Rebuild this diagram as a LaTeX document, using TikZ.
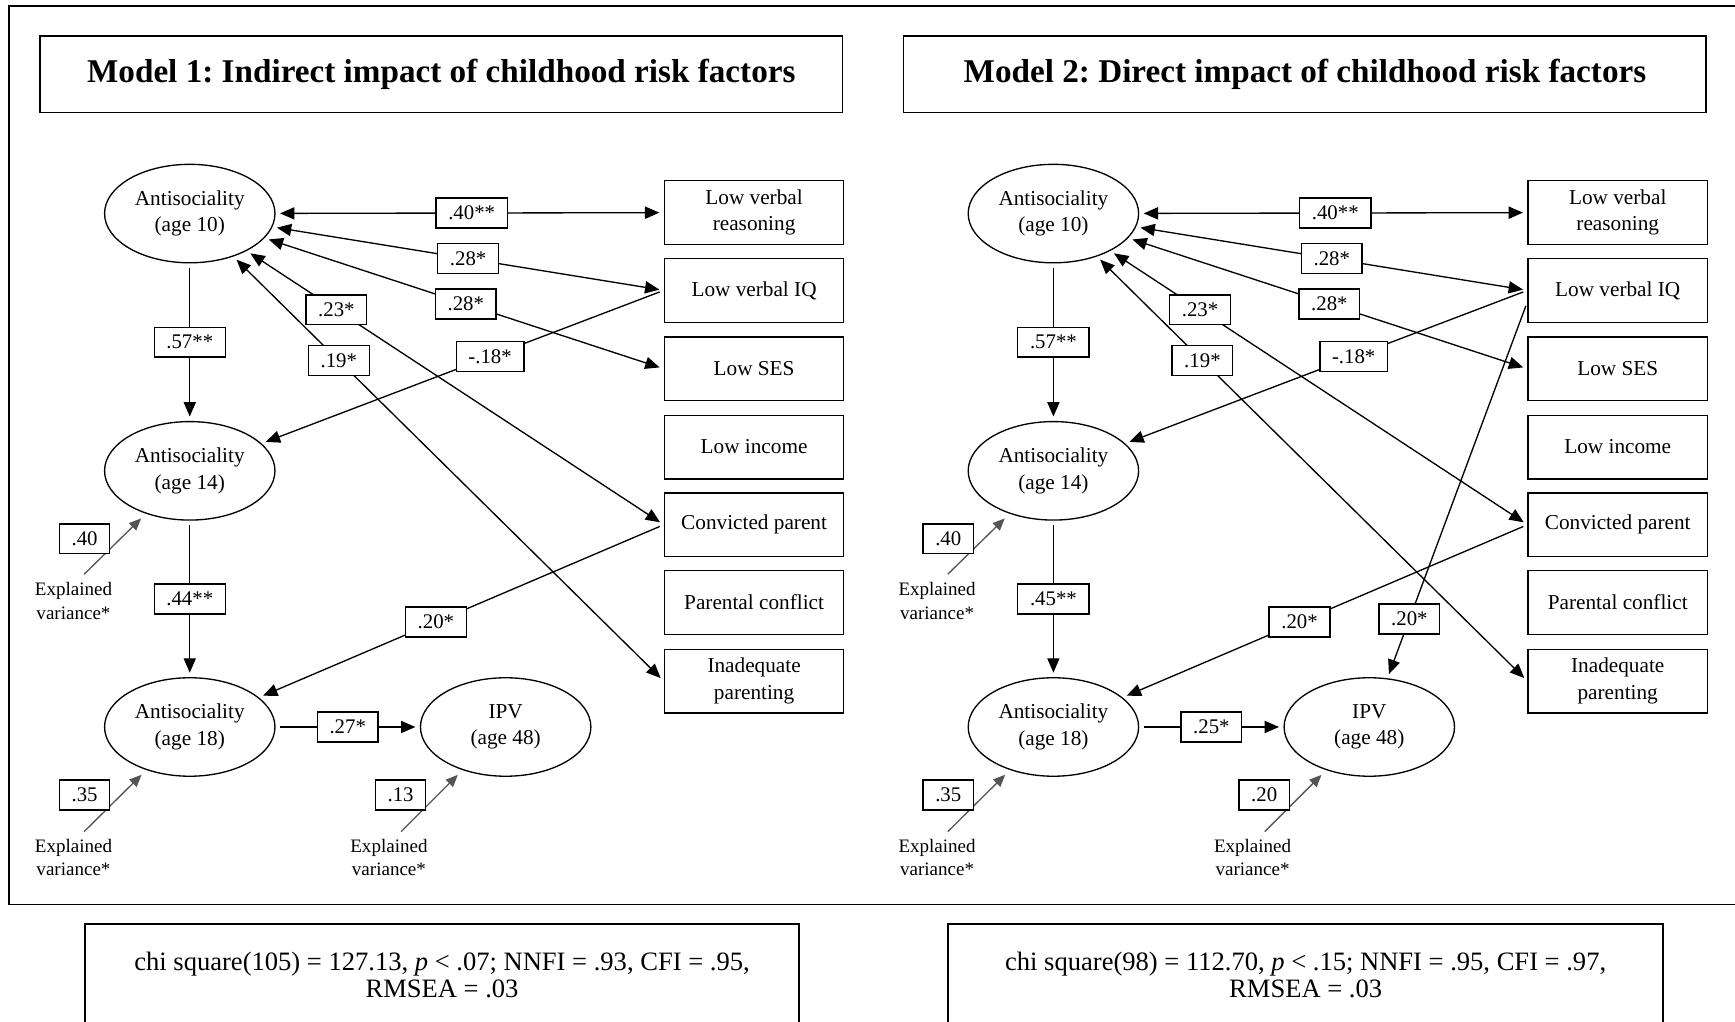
\documentclass[tikz,border=0pt]{standalone}
\usepackage{fontspec}
\setmainfont{Liberation Serif}
\usetikzlibrary{shapes.geometric,arrows.meta,calc}
\frenchspacing
\definecolor{vgray}{RGB}{85,85,85}
\tikzset{
  ell/.style={draw, line width=0.6pt, ellipse, minimum width=77pt, minimum height=44.5pt, inner sep=0pt, align=center, font=\fontsize{9.6}{12}\selectfont},
  rbox/.style={draw, line width=0.6pt, rectangle, minimum width=81pt, minimum height=28.75pt, inner sep=0pt, align=center, font=\fontsize{9.6}{12}\selectfont},
  titlebox/.style={draw, line width=0.7pt, rectangle, minimum width=362.65pt, minimum height=34.65pt, inner sep=0pt, font=\fontsize{15}{18}\selectfont\bfseries},
  lbl/.style={draw, fill=white, line width=0.6pt, inner xsep=5.5pt, inner ysep=0pt, minimum height=13.5pt, font=\fontsize{9.4}{11}\selectfont},
  vtext/.style={align=center, inner sep=0pt, font=\fontsize{8.6}{10.6}\selectfont},
  conn/.style={line width=0.6pt, shorten >=2pt, shorten <=2pt},
  one/.style={conn, -{Triangle[length=6.5pt,width=5.5pt]}},
  two/.style={conn, {Triangle[length=6.5pt,width=5.5pt]}-{Triangle[length=6.5pt,width=5.5pt]}},
  varr/.style={draw=vgray, line width=0.6pt, shorten >=3pt, -{Triangle[length=5.5pt,width=4.6pt]}, vgray},
  frameline/.style={line width=0.8pt},
  fittext/.style={align=center, inner sep=0pt, font=\fontsize{12}{12.2}\selectfont}
}
\newcommand{\modelbody}[4]{%
  \node[titlebox] (title) at (398.85,67.15) {#1};
  \node[ell] (a10) at (171.5,193) {Antisociality\\(age 10)};
  \node[ell] (a14) at (171.5,425.5) {Antisociality\\(age 14)};
  \node[ell] (a18) at (171.5,657) {Antisociality\\(age 18)};
  \node[ell] (ipv) at (457,657) {IPV\\(age 48)};
  \node[rbox] (lvr) at (681.5,192) {Low verbal\\reasoning};
  \node[rbox] (lviq) at (681.5,262.4) {Low verbal IQ};
  \node[rbox] (ses) at (681.5,333.3) {Low SES};
  \node[rbox] (inc) at (681.5,404) {Low income};
  \node[rbox] (cp) at (681.5,474.2) {Convicted parent};
  \node[rbox] (pc) at (681.5,544.5) {Parental conflict};
  \node[rbox] (ip) at (681.5,615.6) {Inadequate\\parenting};
  % connectors
  \draw[two] (a10) -- (lvr) node[lbl,pos=0.505] (l40) {.40**};
  \draw[two] (a10) -- (lviq.west) node[lbl,pos=0.5] (l28a) {.28*};
  \draw[two] (a10) -- (ses.west) node[lbl,pos=0.504] (l28b) {.28*};
  \draw[two] (a10) -- (cp.west) node[lbl,pos=0.215] (l23) {.23*};
  \draw[two] (a10) -- (ip.west) node[lbl,pos=0.245] (l19) {.19*};
  \draw[one] (lviq.west) -- (a14) node[lbl,pos=0.432] (l18) {-.18*};
  \draw[one] (cp.west) -- (a18) node[lbl,pos=0.563] (l20) {.20*};
  \draw[one] (a10) -- (a14) node[lbl,pos=0.5] (l57) {.57**};
  \draw[one] (a14) -- (a18) node[lbl,pos=0.5] (l44) {#2};
  \draw[one] (a18) -- (ipv) node[lbl,pos=0.5] (l27) {#3};
  % explained variance
  \coordinate (v14) at (76,519);
  \coordinate (v18) at (76,751.6);
  \coordinate (vipv) at (362.5,751.6);
  \node[vtext] (t14) at (66.4,543) {Explained\\variance*};
  \node[vtext] (t18) at (66.4,775) {Explained\\variance*};
  \node[vtext] (tipv) at (351.5,775) {Explained\\variance*};
  \draw[varr] (v14) -- (a14);
  \draw[varr] (v18) -- (a18);
  \draw[varr] (vipv) -- (ipv);
  \node[lbl] (r14) at (76.5,487) {.40};
  \node[lbl] (r18) at (76.5,718.4) {.35};
  \node[lbl] (ripv) at (362,718.4) {#4};
}
\begin{document}
\begin{tikzpicture}[x=0.5pt,y=-0.5pt]
\useasboundingbox (0,0) rectangle (1568,923);
\clip (0,0) rectangle (1568,923);
\draw[frameline] (1600,5.1) -- (8.4,5.1) -- (8.4,817.5) -- (1600,817.5);
\begin{scope}[name prefix=m1-]
  \modelbody{Model 1: Indirect impact of childhood risk factors}{.44**}{.27*}{.13}
\end{scope}
\begin{scope}[xshift=390.25pt, name prefix=m2-]
  \modelbody{Model 2: Direct impact of childhood risk factors}{.45**}{.25*}{.20}
  \coordinate (lviqlow) at ([yshift=-5.1pt]lviq.west);
  \draw[one] (lviqlow) -- (ipv) node[lbl,pos=0.843] (l20b) {.20*};
\end{scope}
\draw[frameline] (77,940) -- (77,835.3) -- (722,835.3) -- (722,940);
\node[fittext] (fit1) at (399.5,881) {chi square(105) = 127.13, \textit{p} < .07; NNFI = .93, CFI = .95,\\RMSEA = .03};
\draw[frameline] (857,940) -- (857,835.3) -- (1503,835.3) -- (1503,940);
\node[fittext] (fit2) at (1180,881) {chi square(98) = 112.70, \textit{p} < .15; NNFI = .95, CFI = .97,\\RMSEA = .03};
\end{tikzpicture}
\end{document}
